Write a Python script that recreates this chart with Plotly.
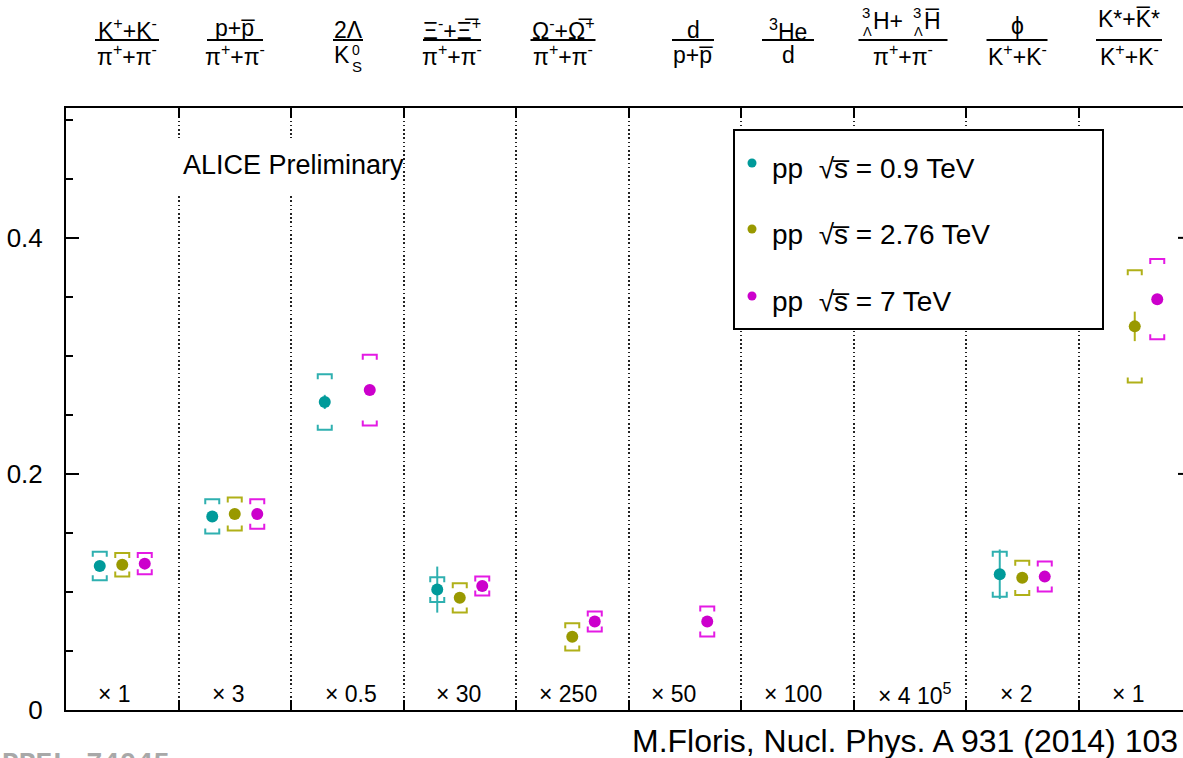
import plotly.graph_objects as go

# ---------------- data ----------------
categories = ["K/pi", "p/pi", "2Lambda/K0S", "Xi/pi", "Omega/pi",
              "d/p", "3He/d", "3LH/pi", "phi/K", "K*/K"]
scale_factors = ["× 1", "× 3", "× 0.5", "× 30", "× 250", "× 50", "× 100",
                 "× 4 10<sup>5</sup>", "× 2", "× 1"]
energies = ["0.9", "2.76", "7"]

ratio_09 = [0.122, 0.164, 0.261, 0.102, None, None, None, None, 0.115, None]
stat_09 = [0.0, 0.0, 0.006, 0.0195, 0.0, 0.0, 0.0, 0.0, 0.021, 0.0]
sys_09 = [0.012, 0.0145, 0.0235, 0.0105, None, None, None, None, 0.019, None]

ratio_276 = [0.123, 0.166, None, 0.095, 0.062, None, None, None, 0.112, 0.325]
stat_276 = [0.0, 0.0, 0.0, 0.0, 0.004, 0.0, 0.0, 0.0, 0.0, 0.0125]
sys_276 = [0.010, 0.014, None, 0.0123, 0.0115, None, None, None, 0.0145, 0.0475]

ratio_7 = [0.124, 0.166, 0.271, 0.105, 0.075, 0.075, None, None, 0.113, 0.348]
stat_7 = [0.0, 0.0, 0.0, 0.0, 0.0, 0.0, 0.0, 0.0, 0.0, 0.0]
sys_7 = [0.009, 0.0125, 0.030, 0.008, 0.0085, 0.0127, None, None, 0.0127, 0.034]

y_major_ticks = [0.2, 0.4]

# ---------------- geometry / style ----------------
W, H = 1183, 758
L, T, B = 66, 108, 710           # plot frame in pixels
PW, PH = W - L, B - T
CAT_PX = 112.5                   # width of one ratio column
X_MAX = PW / CAT_PX
Y_MAX = 0.51
FONT = "Liberation Sans, Arial, sans-serif"

marker_colors = ["#009a9a", "#999900", "#cc00cc"]
bracket_colors = ["#2fb0b0", "#b0b018", "#e41ae4"]
offsets = [-0.2, 0.0, 0.2]

HW = 7 / CAT_PX                  # bracket half width (data units)
LEG = 5 * Y_MAX / PH             # bracket leg height (data units)


def X(px):
    return (px - L) / PW


def Y(py):
    return (B - py) / PH


def bracket_path(xs, ys, ss):
    bx, by = [], []
    for x, y, s in zip(xs, ys, ss):
        if y is None or s is None:
            continue
        top, bot = y + s, y - s
        bx += [x - HW, x - HW, x + HW, x + HW, None,
               x - HW, x - HW, x + HW, x + HW, None]
        by += [top - LEG, top, top, top - LEG, None,
               bot + LEG, bot, bot, bot + LEG, None]
    return bx, by


fig = go.Figure()

series = [(ratio_09, stat_09, sys_09), (ratio_276, stat_276, sys_276), (ratio_7, stat_7, sys_7)]
for k, (vals, stat, syst) in enumerate(series):
    xs = [i + 0.5 + offsets[k] for i in range(len(categories))]
    bx, by = bracket_path(xs, vals, syst)
    fig.add_trace(go.Scatter(x=bx, y=by, mode="lines",
                             line=dict(color=bracket_colors[k], width=2),
                             hoverinfo="skip", showlegend=False))
for k, (vals, stat, syst) in enumerate(series):
    xs = [i + 0.5 + offsets[k] for i in range(len(categories))]
    fig.add_trace(go.Scatter(
        x=xs, y=vals, mode="markers",
        marker=dict(size=12, color=marker_colors[k]),
        error_y=dict(type="data", array=stat, visible=True,
                     color=bracket_colors[k], thickness=2, width=0),
        name=f"pp √s = {energies[k]} TeV", showlegend=False))

annotations = []
shapes = []

# ---- ratio labels above the frame ----
label_cx = [127, 235, 348, 452, 563, 693, 788, 903, 1017, 1129]
bar_w = [64, 56, 30, 58, 65, 42, 52, 89, 61, 66]
OL = "\u0305"
numerators = ["K<sup>+</sup>+K<sup>-</sup>", "p+p" + OL, "2Λ",
              "Ξ<sup>-</sup>+Ξ" + OL + "<sup>+</sup>",
              "Ω<sup>-</sup>+Ω" + OL + "<sup>+</sup>",
              "d", "<sup>3</sup>He", None, "ϕ", "K*+K" + OL + "*"]
num_cy = [29, 28, 30, 29, 29, 30, 30, 21, 26, 19]
pipi = "π<sup>+</sup>+π<sup>-</sup>"
kk = "K<sup>+</sup>+K<sup>-</sup>"
denominators = [pipi, pipi, None, pipi, pipi, "p+p" + OL, "d", pipi, kk, kk]
BAR_PY = 40
DEN_CY = 55
FS = 23


def txt(text, px, py, size, xanchor="center", color="black", family=FONT):
    return dict(text=text, x=X(px), y=Y(py), xref="paper", yref="paper",
                xanchor=xanchor, yanchor="middle", showarrow=False,
                font=dict(size=size, color=color, family=family))


for i in range(len(categories)):
    cx = label_cx[i]
    if numerators[i] is not None:
        annotations.append(txt(numerators[i], cx, num_cy[i], FS))
    if denominators[i] is not None:
        annotations.append(txt(denominators[i], cx, DEN_CY, FS))
    shapes.append(dict(type="line", xref="paper", yref="paper",
                       x0=X(cx - bar_w[i] / 2), x1=X(cx + bar_w[i] / 2),
                       y0=Y(BAR_PY), y1=Y(BAR_PY),
                       line=dict(color="black", width=2)))

# K0_S with stacked super/subscript
annotations.append(txt("K", 342, DEN_CY, FS))
annotations.append(txt("0", 356, 50, 14))
annotations.append(txt("S", 357, 66, 15))
# hypertriton numerator with stacked pre-scripts
annotations.append(txt("H+", 871, 21, FS, xanchor="left"))
annotations.append(txt("H" + OL, 922, 21, FS, xanchor="left"))
for sx in (866, 917):
    annotations.append(txt("3", sx, 12, 15))
    annotations.append(txt("Λ", sx + 1, 31, 13))

# ---- scale factors along the bottom ----
factor_x = [0.43, 1.44, 2.53, 3.49, 4.46, 5.40, 6.46, 7.55, 8.45, 9.44]
for fx, lab in zip(factor_x, scale_factors):
    annotations.append(dict(text=lab, x=fx, y=0.0136, xref="x", yref="y",
                            xanchor="center", yanchor="middle", showarrow=False,
                            font=dict(size=23, color="black", family=FONT)))

# ---- ALICE Preliminary ----
shapes.append(dict(type="rect", xref="paper", yref="paper",
                   x0=X(172), x1=X(402), y0=Y(196), y1=Y(138),
                   fillcolor="white", line=dict(width=0), layer="above"))
annotations.append(txt("ALICE Preliminary", 181, 165, 27, xanchor="left"))

# ---- legend box ----
shapes.append(dict(type="rect", xref="paper", yref="paper",
                   x0=X(734), x1=X(1103), y0=Y(329), y1=Y(130),
                   fillcolor="white", line=dict(color="black", width=2),
                   layer="above"))
legend_rows = [163, 229, 296]
for k, ry in enumerate(legend_rows):
    shapes.append(dict(type="circle", xref="paper", yref="paper",
                       xsizemode="pixel", ysizemode="pixel",
                       xanchor=X(752), yanchor=Y(ry),
                       x0=-4.5, x1=4.5, y0=-4.5, y1=4.5,
                       fillcolor=marker_colors[k], line=dict(width=0),
                       layer="above"))
    annotations.append(txt(f"pp  √s{OL} = {energies[k]} TeV", 770, ry + 5, 28,
                           xanchor="left"))

# ---- right-hand frame ticks (frame edge lies just past the page) ----
for yt in y_major_ticks:
    shapes.append(dict(type="line", xref="paper", yref="y",
                       xsizemode="pixel", xanchor=1, x0=-5, x1=0,
                       y0=yt, y1=yt, line=dict(color="black", width=2)))

# ---- citation and record id ----
annotations.append(txt("M.Floris, Nucl. Phys. A 931 (2014) 103", 1180, 741, 32,
                       xanchor="right"))
annotations.append(txt("<b>PREL-74045</b>", 0, 763, 28, xanchor="left",
                       color="#a8a8a8", family="Liberation Mono, Courier New, monospace"))

fig.update_layout(
    width=W, height=H,
    margin=dict(l=L, r=W - L - PW, t=T, b=H - B, pad=0),
    paper_bgcolor="white", plot_bgcolor="white",
    showlegend=False,
    font=dict(family=FONT, color="black"),
    annotations=annotations, shapes=shapes,
    xaxis=dict(range=[0, X_MAX], tick0=0, dtick=1, showticklabels=False,
               ticks="inside", ticklen=10, tickwidth=2, tickcolor="black",
               showline=True, linewidth=2, linecolor="black", mirror="ticks",
               showgrid=True, gridcolor="#222", gridwidth=1.5, griddash="1.6px,2.6px",
               zeroline=False, fixedrange=True),
    yaxis=dict(range=[0, Y_MAX], tick0=0, dtick=0.2,
               ticks="inside", ticklen=13, tickwidth=2, tickcolor="black",
               minor=dict(dtick=0.05, ticks="inside", ticklen=7, tickwidth=2,
                          tickcolor="black", showgrid=False),
               showline=True, linewidth=2, linecolor="black",
               showgrid=False, zeroline=False,
               tickfont=dict(size=26, color="black", family=FONT),
               ticklabelstandoff=16, fixedrange=True),
)

fig.write_html("out.html", config={"displayModeBar": False})
